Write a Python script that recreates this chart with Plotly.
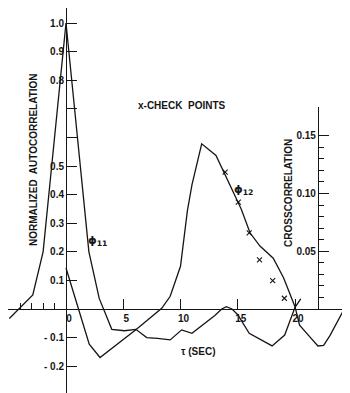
import plotly.graph_objects as go

# ---- data ----
# phi_11 : normalized autocorrelation (left scale)
tau_auto = [-4.95, -2.9, -2.0, 0.0, 2.0, 2.9, 4.0, 5.1, 6.1, 7.05, 8.0, 9.1, 10.1, 11.0,
            13.0, 13.6, 14.0, 14.5, 15.0, 16.0, 18.0, 19.1, 20.0, 20.5]
phi11 = [-0.033, 0.049, 0.2, 1.0, 0.2, 0.037, -0.071, -0.076, -0.071, -0.100, -0.103, -0.108,
         -0.073, -0.085, -0.023, 0.0, 0.008, 0.0, -0.020, -0.085, -0.129, -0.091, 0.006, 0.035]

# phi_12 : crosscorrelation (right scale)
tau_cross = [0.0, 2.03, 2.97, 6.1, 8.36, 9.1, 10.0, 10.6, 11.0, 11.85, 13.1, 15.3, 16.07,
             16.94, 18.1, 19.0, 20.0, 20.4, 21.2, 22.0, 22.5, 23.05, 24.65]
phi12 = [0.0355, -0.0305, -0.042, -0.018, 0.0006, 0.011, 0.037, 0.085, 0.1075, 0.143, 0.133,
         0.0865, 0.066, 0.0545, 0.044, 0.027, 0.002, -0.014, -0.023, -0.032, -0.0315, -0.023, 0.0065]

# check points on the crosscorrelation (right scale)
tau_check = [13.9, 15.05, 16.0, 16.9, 18.05, 19.07, 20.0, 21.0, 22.0, 22.9, 24.0]
check_vals = [0.1185, 0.0925, 0.066, 0.0425, 0.0245, 0.0093, -0.0059, -0.014, -0.0236, -0.0265, -0.0236]

# axis ticks
x_ticks = [0, 5, 10, 15, 20]
x_ticktext = ["0", "5", "10", "15", "20"]
x_minor = [-4, -3, -2, -1]
y_ticks = [-0.2, -0.1, 0.1, 0.2, 0.3, 0.4, 0.5, 0.8, 0.9, 1.0]
y_ticktext = ["- 0.2", "- 0.1", "0.1", "0.2", "0.3", "0.4", "0.5", "0.8", "0.9", "1.0"]
y_unlabelled = [0.6, 0.7]
y2_ticks = [0.05, 0.10, 0.15]
y2_ticktext = ["0.05", "0.10", "0.15"]
y2_minor = [0.01, 0.02, 0.03, 0.04, 0.06, 0.07, 0.08, 0.09, 0.11, 0.12, 0.13, 0.14]

INK = "#151515"
FONT = dict(family="Liberation Sans, Arial, sans-serif", size=10, color=INK, weight="bold")

W, H = 350, 393
OFF = 8.0                      # page body margin that shifts the figure in the window
PX_PER_SEC = 11.45
X0_PX = 66.0 - OFF             # pixel of tau = 0
X_RANGE = [-X0_PX / PX_PER_SEC, (W - X0_PX) / PX_PER_SEC]
ZERO_PX = 309.0 - OFF
Y_TOP_PX = 0.0
LEFT_PPU = 286.0               # pixels per unit, left scale
RIGHT_PPU = 1155.0             # pixels per unit, right scale
RIGHT_TOP_PX = 107.0 - OFF
TAU_RIGHT_AXIS = 22.0

y_dom = [0, (H - Y_TOP_PX) / H]
y_range = [-(H - ZERO_PX) / LEFT_PPU, (ZERO_PX - Y_TOP_PX) / LEFT_PPU]
y3_range = [-(H - ZERO_PX) / RIGHT_PPU, (ZERO_PX - Y_TOP_PX) / RIGHT_PPU]
y2_dom = [(H - ZERO_PX) / H, (H - RIGHT_TOP_PX) / H]
y2_range = [0, (ZERO_PX - RIGHT_TOP_PX) / RIGHT_PPU]
x_zero_frac = (0 - X_RANGE[0]) / (X_RANGE[1] - X_RANGE[0])
x_right_frac = (TAU_RIGHT_AXIS - X_RANGE[0]) / (X_RANGE[1] - X_RANGE[0])

fig = go.Figure()
fig.add_trace(go.Scatter(x=tau_auto, y=phi11, mode="lines", line=dict(color=INK, width=1.3),
                         xaxis="x", yaxis="y", hoverinfo="skip"))
fig.add_trace(go.Scatter(x=tau_cross, y=phi12, mode="lines", line=dict(color=INK, width=1.3),
                         xaxis="x", yaxis="y3", hoverinfo="skip"))
fig.add_trace(go.Scatter(x=tau_check, y=check_vals, mode="markers", cliponaxis=False,
                         marker=dict(symbol="x-thin", size=5, line=dict(color=INK, width=1.1)),
                         xaxis="x", yaxis="y2", hoverinfo="skip"))

fig.update_layout(
    width=W, height=H, margin=dict(l=0, r=0, t=0, b=0),
    paper_bgcolor="white", plot_bgcolor="rgba(0,0,0,0)",
    showlegend=False, font=FONT,
    xaxis=dict(range=X_RANGE, domain=[0, 1], anchor="free", position=(H - ZERO_PX) / H,
               showline=True, linecolor=INK, linewidth=1, showgrid=False, zeroline=False,
               tickmode="array", tickvals=x_ticks, ticktext=x_ticktext,
               ticks="inside", ticklen=10, tickwidth=1, tickcolor=INK, ticklabelshift=3,
               minor=dict(tickmode="array", tickvals=x_minor, ticks="inside", ticklen=6,
                          tickwidth=1, tickcolor=INK),
               tickfont=FONT, automargin=False, fixedrange=True),
    yaxis=dict(range=y_range, domain=y_dom, anchor="free", position=x_zero_frac, side="left",
               showline=True, linecolor=INK, linewidth=1, showgrid=False, zeroline=False,
               tickmode="array", tickvals=y_ticks, ticktext=y_ticktext,
               ticks="inside", ticklen=10, tickwidth=1, tickcolor=INK,
               minor=dict(tickmode="array", tickvals=y_unlabelled, ticks="inside", ticklen=10,
                          tickwidth=1, tickcolor=INK),
               tickfont=FONT, automargin=False, fixedrange=True),
    yaxis3=dict(range=y3_range, overlaying="y", anchor="free", position=x_zero_frac,
                visible=False, showgrid=False, zeroline=False, fixedrange=True),
    yaxis2=dict(range=y2_range, domain=y2_dom, anchor="free", position=x_right_frac, side="left",
                showline=True, linecolor=INK, linewidth=1, showgrid=False, zeroline=False,
                tickmode="array", tickvals=y2_ticks, ticktext=y2_ticktext,
                ticks="inside", ticklen=10, tickwidth=1, tickcolor=INK,
                minor=dict(tickmode="array", tickvals=y2_minor, ticks="inside", ticklen=5,
                           tickwidth=1, tickcolor=INK),
                tickfont=FONT, automargin=False, fixedrange=True),
)

PHI_FONT = dict(family="DejaVu Sans, sans-serif", size=11, color=INK)
annots = [
    dict(text="NORMALIZED  AUTOCORRELATION", x=-2.79, y=0.521, textangle=-90, font=FONT),
    dict(text="CROSSCORRELATION", x=19.48, y=0.406, textangle=-90, font=FONT),
    dict(text="x-CHECK  POINTS", x=10.09, y=0.711, font=FONT),
    dict(text="τ (SEC)", x=11.53, y=-0.150, font=FONT),
    dict(text="ϕ<sub>11</sub>", x=2.75, y=0.238, font=PHI_FONT),
    dict(text="ϕ<sub>12</sub>", x=15.5, y=0.416, font=PHI_FONT),
]
for a in annots:
    fig.add_annotation(xref="x", yref="y", showarrow=False, **a)

fig.write_html("out.html")
